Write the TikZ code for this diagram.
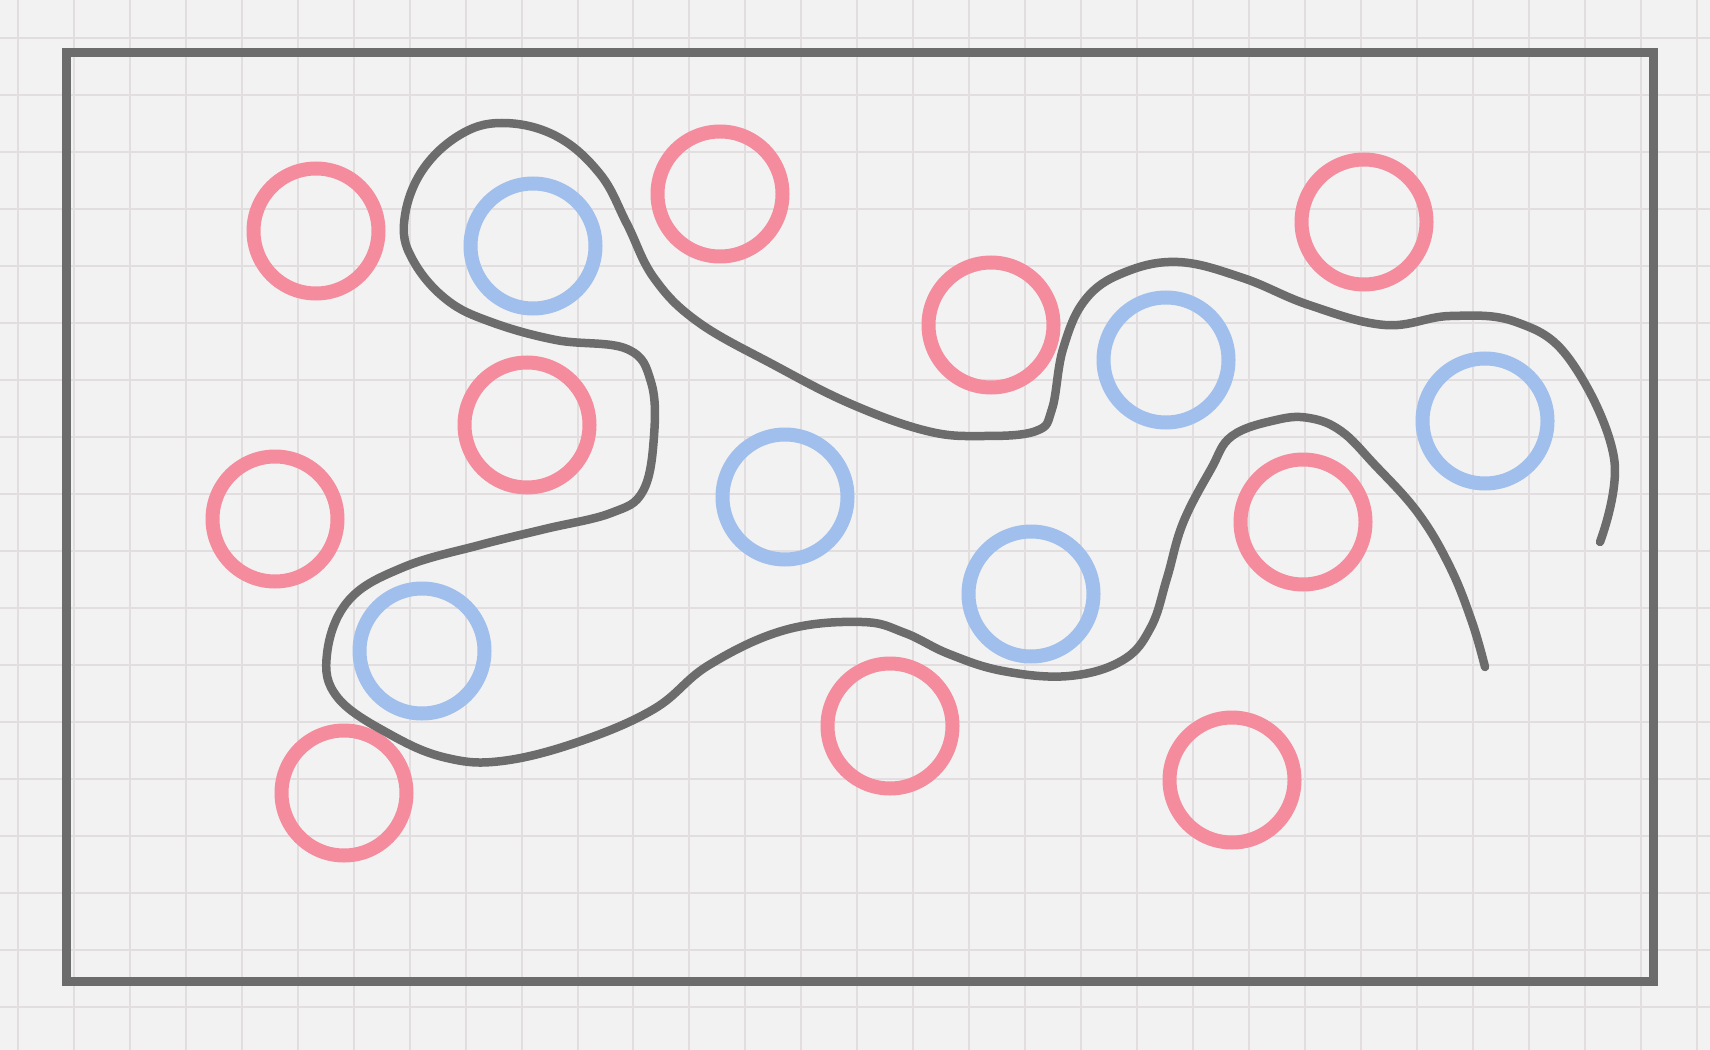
\documentclass[tikz,border=0pt]{standalone}
\usetikzlibrary{calc}
\definecolor{paper}{RGB}{242,242,242}
\definecolor{gridline}{RGB}{226,221,222}
\definecolor{pencil}{RGB}{108,108,108}
\definecolor{rosepink}{RGB}{244,140,157}
\definecolor{skyblue}{RGB}{160,191,236}
\tikzset{
    redring/.style={circle, draw=rosepink, line width=1.4mm, minimum size=12.5mm, inner sep=0pt},
    bluering/.style={circle, draw=skyblue, line width=1.4mm, minimum size=12.5mm, inner sep=0pt},
}
\newcommand{\drawpencil}{\draw[pencil, line cap=round, line join=round]}

\begin{document}
\begin{tikzpicture}[x=0.1mm, y=-0.1mm]
    % Paper and grid
    \useasboundingbox (0,0) rectangle (1710,1050);
    \fill[paper] (0,0) rectangle (1710,1050);
    \foreach \i in {0,...,30} {
        \draw[gridline, line width=0.2mm] ({18+55.95*\i},0) -- ++(0,1050);
    }
    \foreach \j in {0,...,18} {
        \draw[gridline, line width=0.2mm] (0,{38+57*\j}) -- ++(1710,0);
    }

    % Frame
    \drawpencil[line width=0.9mm, line cap=butt, line join=miter] (66,53) rectangle (1653,981);

    % Red rings
    \node[redring] (r1) at (316,231) {};
    \node[redring] (r2) at (720,194) {};
    \node[redring] (r3) at (527,425) {};
    \node[redring] (r4) at (275,519) {};
    \node[redring] (r5) at (344,793) {};
    \node[redring] (r6) at (991,325) {};
    \node[redring] (r7) at (1364,222) {};
    \node[redring] (r8) at (1303,522) {};
    \node[redring] (r9) at (890,726) {};
    \node[redring] (r10) at (1232,780) {};

    % Blue rings
    \node[bluering] (b1) at (533,246) {};
    \node[bluering] (b2) at (785,497) {};
    \node[bluering] (b3) at (422,651) {};
    \node[bluering] (b4) at (1031,594) {};
    \node[bluering] (b5) at (1166,360) {};
    \node[bluering] (b6) at (1485,421) {};

    % Boundary curve
    \drawpencil[line width=0.85mm] plot[smooth, tension=0.65] coordinates {
        (1600,542) (1614,458) (1570,360) (1516,322) (1450,316) (1385,325)
        (1309,305) (1243,278) (1178,262) (1123,273) (1085,300) (1063,349)
        (1052,409) (1036,431) (982,436) (927,431) (851,404) (774,365)
        (698,322) (654,278) (627,224) (600,174) (556,136) (502,123)
        (458,136) (420,174) (404,224) (414,262) (447,300) (491,322)
        (556,340) (627,349) (651,382) (654,436) (643,491) (611,513)
        (545,529) (480,545) (404,567) (349,600) (327,654) (338,698)
        (393,736) (447,758) (502,761) (578,742) (654,709) (709,665)
        (785,630) (862,622) (905,633) (949,654) (1003,671) (1069,676)
        (1123,660) (1151,627) (1167,578) (1183,523) (1211,469) (1232,436)
        (1276,420) (1309,418) (1341,431) (1374,464) (1418,513) (1450,567)
        (1472,622) (1485,667)
    };
\end{tikzpicture}
\end{document}
